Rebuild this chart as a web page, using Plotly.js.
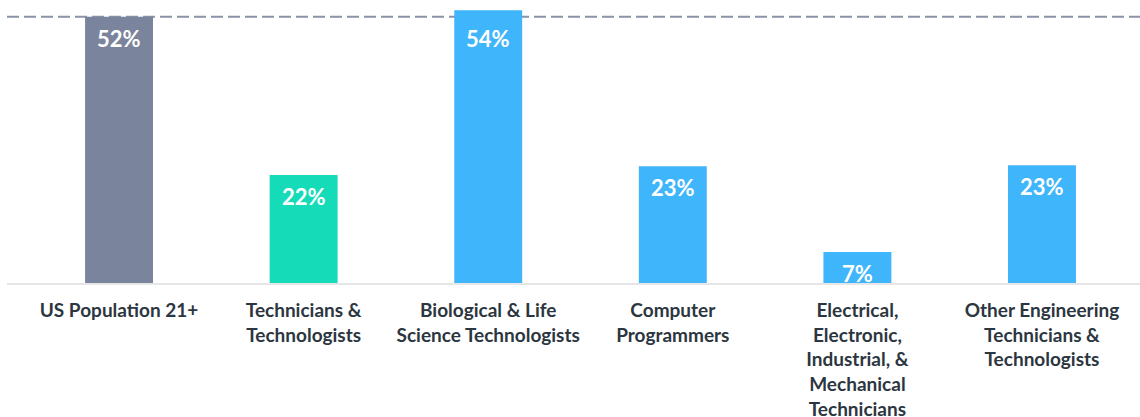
<!DOCTYPE html>
<html>
<head>
<meta charset="utf-8">
<script src="https://cdn.plot.ly/plotly-3.0.1.min.js"></script>
<style>
  html, body { margin: 0; padding: 0; background: #ffffff; }
  #chart { width: 1140px; height: 417px; }
</style>
</head>
<body>
<div id="chart"></div>
<script>
// ---- data ----
const categories = [
  "US Population 21+",
  "Technicians &<br>Technologists",
  "Biological & Life<br>Science Technologists",
  "Computer<br>Programmers",
  "Electrical,<br>Electronic,<br>Industrial, &<br>Mechanical<br>Technicians",
  "Other Engineering<br>Technicians &<br>Technologists"
];
const values = [52.2, 21.2, 53.5, 22.9, 6.1, 23.1];
const labels = ["52%", "22%", "54%", "23%", "7%", "23%"];
const barColors = ["#7a849c", "#16dbb9", "#3fb5fb", "#3fb5fb", "#3fb5fb", "#3fb5fb"];
const referenceValue = values[0];

const trace = {
  type: "bar",
  x: categories,
  y: values,
  marker: { color: barColors, line: { width: 0 } },
  hoverinfo: "none",
  cliponaxis: false
};

// value labels sit inside the bar top, but never above the reference line
const annotations = categories.map((c, i) => ({
  x: c,
  y: Math.min(values[i], referenceValue),
  xref: "x",
  yref: "y",
  text: labels[i],
  showarrow: false,
  yanchor: "top",
  xanchor: "center",
  yshift: -6,
  font: { family: "Lato, 'Open Sans', sans-serif", size: 22, color: "#ffffff", weight: 700 }
}));

const layout = {
  width: 1140,
  height: 417,
  margin: { l: 7, r: 0, t: 0, b: 134, pad: 0 },
  paper_bgcolor: "#ffffff",
  plot_bgcolor: "#ffffff",
  showlegend: false,
  bargap: 0.632,
  xaxis: {
    type: "category",
    range: [-0.607, 5.531],
    showgrid: false,
    zeroline: false,
    showline: true,
    linecolor: "#e6e6e6",
    linewidth: 2,
    ticks: "",
    tickangle: 0,
    ticklabelstandoff: 9,
    tickfont: { family: "Lato, 'Open Sans', sans-serif", size: 19, color: "#2c3640", weight: 700 },
    fixedrange: true
  },
  yaxis: {
    range: [0, 55.49],
    showgrid: false,
    zeroline: false,
    showline: false,
    showticklabels: false,
    ticks: "",
    fixedrange: true
  },
  shapes: [{
    type: "line",
    xref: "paper",
    yref: "y",
    x0: 0,
    x1: 1,
    y0: referenceValue,
    y1: referenceValue,
    layer: "below",
    line: { color: "#8a93aa", width: 2, dash: "12px,5px" }
  }],
  annotations: annotations
};

Plotly.newPlot("chart", [trace], layout, { displayModeBar: false, staticPlot: true });
</script>
</body>
</html>
